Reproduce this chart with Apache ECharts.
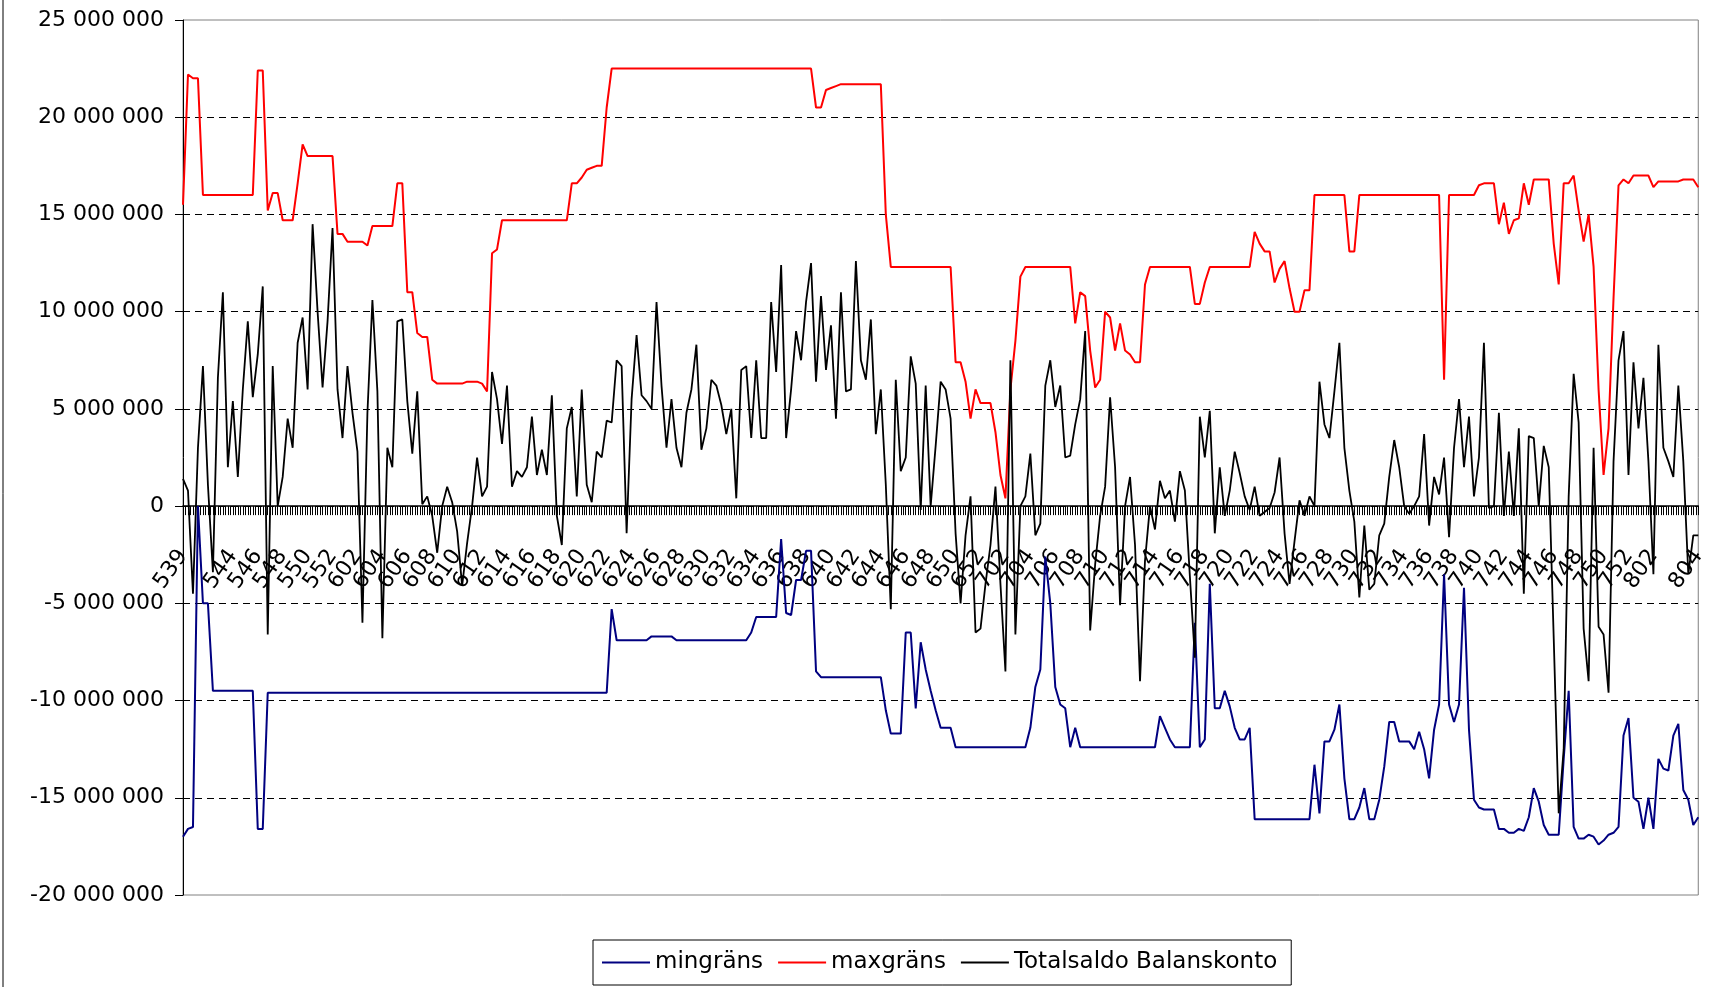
<!DOCTYPE html>
<html>
<head>
<meta charset="utf-8">
<script src="https://cdn.jsdelivr.net/npm/echarts@6/dist/echarts.min.js"></script>
<style>
html,body{margin:0;padding:0;background:#fff;}
#chart{width:1709px;height:987px;}
</style>
</head>
<body>
<div id="chart"></div>
<script>
// Week labels shown on the category axis (one every 5 points)
const weekLabels = ['539','541','544','546','548','550','552',
 '602','604','606','608','610','612','614','616','618','620','622','624','626','628','630','632','634','636','638','640','642','644','646','648','650','652',
 '702','704','706','708','710','712','714','716','718','720','722','724','726','728','730','732','734','736','738','740','742','744','746','748','750','752',
 '802','804'];

// Values in millions
const maxgrans = [
15.5,22.2,22.0,22.0,16.0,16.0,16.0,16.0,16.0,16.0,
16.0,16.0,16.0,16.0,16.0,22.4,22.4,15.2,16.1,16.1,
14.7,14.7,14.7,16.6,18.6,18.0,18.0,18.0,18.0,18.0,
18.0,14.0,14.0,13.6,13.6,13.6,13.6,13.4,14.4,14.4,
14.4,14.4,14.4,16.6,16.6,11.0,11.0,8.9,8.7,8.7,
6.5,6.3,6.3,6.3,6.3,6.3,6.3,6.4,6.4,6.4,
6.3,5.9,13.0,13.2,14.7,14.7,14.7,14.7,14.7,14.7,
14.7,14.7,14.7,14.7,14.7,14.7,14.7,14.7,16.6,16.6,
16.9,17.3,17.4,17.5,17.5,20.5,22.5,22.5,22.5,22.5,
22.5,22.5,22.5,22.5,22.5,22.5,22.5,22.5,22.5,22.5,
22.5,22.5,22.5,22.5,22.5,22.5,22.5,22.5,22.5,22.5,
22.5,22.5,22.5,22.5,22.5,22.5,22.5,22.5,22.5,22.5,
22.5,22.5,22.5,22.5,22.5,22.5,22.5,20.5,20.5,21.4,
21.5,21.6,21.7,21.7,21.7,21.7,21.7,21.7,21.7,21.7,
21.7,15.0,12.3,12.3,12.3,12.3,12.3,12.3,12.3,12.3,
12.3,12.3,12.3,12.3,12.3,7.4,7.4,6.4,4.5,6.0,
5.3,5.3,5.3,3.8,1.6,0.4,6.0,8.5,11.8,12.3,
12.3,12.3,12.3,12.3,12.3,12.3,12.3,12.3,12.3,9.4,
11.0,10.8,8.0,6.1,6.5,10.0,9.7,8.0,9.4,8.0,
7.8,7.4,7.4,11.4,12.3,12.3,12.3,12.3,12.3,12.3,
12.3,12.3,12.3,10.4,10.4,11.5,12.3,12.3,12.3,12.3,
12.3,12.3,12.3,12.3,12.3,14.1,13.5,13.1,13.1,11.5,
12.2,12.6,11.2,10.0,10.0,11.1,11.1,16.0,16.0,16.0,
16.0,16.0,16.0,16.0,13.1,13.1,16.0,16.0,16.0,16.0,
16.0,16.0,16.0,16.0,16.0,16.0,16.0,16.0,16.0,16.0,
16.0,16.0,16.0,6.5,16.0,16.0,16.0,16.0,16.0,16.0,
16.5,16.6,16.6,16.6,14.5,15.6,14.0,14.7,14.8,16.6,
15.5,16.8,16.8,16.8,16.8,13.5,11.4,16.6,16.6,17.0,
15.2,13.6,15.0,12.3,6.0,1.6,4.0,10.7,16.5,16.8,
16.6,17.0,17.0,17.0,17.0,16.4,16.7,16.7,16.7,16.7,
16.7,16.8,16.8,16.8,16.4];

const mingrans = [
-17.0,-16.6,-16.5,0.0,-5.0,-5.0,-9.5,-9.5,-9.5,-9.5,
-9.5,-9.5,-9.5,-9.5,-9.5,-16.6,-16.6,-9.6,-9.6,-9.6,
-9.6,-9.6,-9.6,-9.6,-9.6,-9.6,-9.6,-9.6,-9.6,-9.6,
-9.6,-9.6,-9.6,-9.6,-9.6,-9.6,-9.6,-9.6,-9.6,-9.6,
-9.6,-9.6,-9.6,-9.6,-9.6,-9.6,-9.6,-9.6,-9.6,-9.6,
-9.6,-9.6,-9.6,-9.6,-9.6,-9.6,-9.6,-9.6,-9.6,-9.6,
-9.6,-9.6,-9.6,-9.6,-9.6,-9.6,-9.6,-9.6,-9.6,-9.6,
-9.6,-9.6,-9.6,-9.6,-9.6,-9.6,-9.6,-9.6,-9.6,-9.6,
-9.6,-9.6,-9.6,-9.6,-9.6,-9.6,-5.3,-6.9,-6.9,-6.9,
-6.9,-6.9,-6.9,-6.9,-6.7,-6.7,-6.7,-6.7,-6.7,-6.9,
-6.9,-6.9,-6.9,-6.9,-6.9,-6.9,-6.9,-6.9,-6.9,-6.9,
-6.9,-6.9,-6.9,-6.9,-6.5,-5.7,-5.7,-5.7,-5.7,-5.7,
-1.7,-5.5,-5.6,-3.8,-3.8,-2.3,-2.3,-8.5,-8.8,-8.8,
-8.8,-8.8,-8.8,-8.8,-8.8,-8.8,-8.8,-8.8,-8.8,-8.8,
-8.8,-10.5,-11.7,-11.7,-11.7,-6.5,-6.5,-10.4,-7.0,-8.4,
-9.5,-10.5,-11.4,-11.4,-11.4,-12.4,-12.4,-12.4,-12.4,-12.4,
-12.4,-12.4,-12.4,-12.4,-12.4,-12.4,-12.4,-12.4,-12.4,-12.4,
-11.4,-9.3,-8.4,-2.6,-5.0,-9.3,-10.2,-10.4,-12.4,-11.4,
-12.4,-12.4,-12.4,-12.4,-12.4,-12.4,-12.4,-12.4,-12.4,-12.4,
-12.4,-12.4,-12.4,-12.4,-12.4,-12.4,-10.8,-11.4,-12.0,-12.4,
-12.4,-12.4,-12.4,-6.0,-12.4,-12.0,-4.0,-10.4,-10.4,-9.5,
-10.3,-11.4,-12.0,-12.0,-11.4,-16.1,-16.1,-16.1,-16.1,-16.1,
-16.1,-16.1,-16.1,-16.1,-16.1,-16.1,-16.1,-13.3,-15.8,-12.1,
-12.1,-11.5,-10.2,-14.0,-16.1,-16.1,-15.5,-14.5,-16.1,-16.1,
-15.1,-13.4,-11.1,-11.1,-12.1,-12.1,-12.1,-12.5,-11.6,-12.5,
-14.0,-11.5,-10.2,-3.5,-10.2,-11.1,-10.2,-4.2,-11.5,-15.1,
-15.5,-15.6,-15.6,-15.6,-16.6,-16.6,-16.8,-16.8,-16.6,-16.7,
-16.0,-14.5,-15.2,-16.4,-16.9,-16.9,-16.9,-13.0,-9.5,-16.5,
-17.1,-17.1,-16.9,-17.0,-17.4,-17.2,-16.9,-16.8,-16.5,-11.8,
-10.9,-15.0,-15.2,-16.6,-15.0,-16.6,-13.0,-13.5,-13.6,-11.8,
-11.2,-14.6,-15.1,-16.4,-16.0];

const totalsaldo = [
1.4,0.8,-4.5,3.0,7.2,1.1,-3.4,6.6,11.0,2.0,
5.4,1.5,6.0,9.5,5.6,7.8,11.3,-6.6,7.2,0.0,
1.5,4.5,3.0,8.4,9.7,6.0,14.5,10.0,6.1,9.5,
14.3,6.0,3.5,7.2,4.8,2.8,-6.0,4.8,10.6,5.9,
-6.8,3.0,2.0,9.5,9.6,5.4,2.7,5.9,0.1,0.5,
-0.5,-2.4,0.0,1.0,0.2,-1.3,-4.1,-1.9,0.0,2.5,
0.5,1.0,6.9,5.5,3.2,6.2,1.0,1.8,1.5,2.0,
4.6,1.6,2.9,1.6,5.7,-0.5,-2.0,4.0,5.1,0.5,
6.0,1.1,0.2,2.8,2.5,4.4,4.3,7.5,7.2,-1.4,
5.5,8.8,5.7,5.4,5.0,10.5,6.2,3.0,5.5,3.0,
2.0,4.8,6.0,8.3,2.9,4.0,6.5,6.2,5.2,3.7,
5.0,0.4,7.0,7.2,3.5,7.5,3.5,3.5,10.5,6.9,
12.4,3.5,6.0,9.0,7.5,10.5,12.5,6.4,10.8,7.0,
9.3,4.5,11.0,5.9,6.0,12.6,7.5,6.5,9.6,3.7,
6.0,1.1,-5.3,6.5,1.8,2.5,7.7,6.3,-0.2,6.2,
0.0,3.1,6.4,6.0,4.5,-1.4,-5.0,-1.5,0.5,-6.5,
-6.3,-4.0,-2.0,1.0,-4.0,-8.5,7.5,-6.6,0.0,0.5,
2.7,-1.5,-0.9,6.2,7.5,5.1,6.2,2.5,2.6,4.2,
5.5,9.0,-6.4,-3.0,-0.5,1.0,5.6,2.0,-5.1,0.0,
1.5,-2.0,-9.0,-2.8,0.0,-1.2,1.3,0.4,0.8,-0.8,
1.8,0.8,-3.6,-7.8,4.6,2.5,4.9,-1.4,2.0,-0.5,
0.8,2.8,1.7,0.5,-0.2,1.0,-0.5,-0.3,-0.1,0.7,
2.5,-1.4,-4.0,-1.8,0.3,-0.5,0.5,0.0,6.4,4.2,
3.5,5.9,8.4,3.0,0.8,-0.8,-4.7,-1.0,-4.3,-4.0,
-1.5,-0.9,1.5,3.4,2.0,0.0,-0.4,0.0,0.5,3.7,
-1.0,1.5,0.6,2.5,-1.6,3.0,5.5,2.0,4.6,0.5,
2.5,8.4,-0.1,0.0,4.8,-0.5,2.8,-0.5,4.0,-4.5,
3.6,3.5,0.0,3.1,2.0,-6.8,-15.8,-12.5,0.5,6.8,
4.3,-6.3,-9.0,3.0,-6.2,-6.6,-9.6,2.3,7.5,9.0,
1.6,7.4,4.0,6.6,2.3,-3.5,8.3,3.0,2.3,1.5,
6.2,2.3,-3.5,-1.5,-1.5];

const seriesNames = ['mingräns', 'maxgräns', 'Totalsaldo Balanskonto'];

// categories: 5 points per label
const categories = [];
weekLabels.forEach(w => { for (let k = 0; k < 5; k++) categories.push(k === 0 ? w : w + '_' + k); });
// finer tick positions (two per point)
const tickCats = [];
categories.forEach((c, i) => { tickCats.push(c); if (i < categories.length - 1) tickCats.push(c + 'b'); });

const M = 1e6;
const toVal = arr => arr.map(v => v * M);

function fmt(v) {
  if (v === 0) return '0';
  const s = Math.abs(v).toString().replace(/\B(?=(\d{3})+(?!\d))/g, ' ');
  return (v < 0 ? '-' : '') + s;
}

// layout
const W = 1709, H = 987;
const GRID = { left: 183, right: 10, top: 20, bottom: 92 };
const Y_MIN = -20 * M, Y_MAX = 25 * M;
const plotH = H - GRID.top - GRID.bottom;
// move the category axis from the grid bottom up to the zero line
const zeroOffset = -plotH * (0 - Y_MIN) / (Y_MAX - Y_MIN);

const FONT = 'DejaVu Sans';
const chart = echarts.init(document.getElementById('chart'));
const splitColors = ['rgba(0,0,0,0)','#000','#000','#000','#000','#000','#000','#000','#000','rgba(0,0,0,0)'];

chart.setOption({
  animation: false,
  backgroundColor: '#fff',
  textStyle: { fontFamily: FONT },
  graphic: [{ type: 'line', shape: { x1: 3, y1: 0, x2: 3, y2: H }, style: { stroke: '#000', lineWidth: 1 } }],
  grid: Object.assign({ show: true, borderColor: '#808080', borderWidth: 1, containLabel: false }, GRID),
  legend: {
    data: seriesNames, top: 940, left: 593, orient: 'horizontal',
    icon: 'rect', itemWidth: 48, itemHeight: 2, itemGap: 15,
    borderColor: '#000', borderWidth: 1, padding: [11, 14, 11, 9],
    textStyle: { fontFamily: FONT, fontSize: 23, color: '#000' }
  },
  xAxis: [{
    type: 'category', data: categories, boundaryGap: false, position: 'bottom', offset: zeroOffset,
    axisLine: { onZero: false, lineStyle: { color: '#000', width: 1.5 } },
    axisTick: { show: false },
    axisLabel: { interval: 4, rotate: 55, margin: 46, fontSize: 22, color: '#000', fontFamily: FONT,
      showMinLabel: true, showMaxLabel: true, hideOverlap: false,
      formatter: v => v.split('_')[0] },
    splitLine: { show: false }
  }, {
    type: 'category', data: tickCats, boundaryGap: false, position: 'bottom', offset: zeroOffset,
    axisLine: { show: false, onZero: false },
    axisTick: { show: true, interval: 0, length: 9, lineStyle: { color: '#000', width: 1 } },
    axisLabel: { show: false }, splitLine: { show: false }
  }],
  yAxis: {
    type: 'value', min: Y_MIN, max: Y_MAX, interval: 5 * M,
    axisLine: { show: true, lineStyle: { color: '#000', width: 1 } },
    axisTick: { show: true, length: 8, lineStyle: { color: '#000' } },
    axisLabel: { formatter: fmt, fontSize: 22, color: '#000', margin: 19, fontFamily: FONT },
    splitLine: { show: true, lineStyle: { color: splitColors, type: [7, 5], width: 1 } }
  },
  series: [
    { name: seriesNames[0], type: 'line', data: toVal(mingrans), symbol: 'none', xAxisIndex: 0,
      lineStyle: { color: '#000080', width: 2 }, itemStyle: { color: '#000080' } },
    { name: seriesNames[1], type: 'line', data: toVal(maxgrans), symbol: 'none', xAxisIndex: 0,
      lineStyle: { color: '#ff0000', width: 2 }, itemStyle: { color: '#ff0000' } },
    { name: seriesNames[2], type: 'line', data: toVal(totalsaldo), symbol: 'none', xAxisIndex: 0,
      lineStyle: { color: '#000000', width: 1.8 }, itemStyle: { color: '#000000' } }
  ]
});
</script>
</body>
</html>
